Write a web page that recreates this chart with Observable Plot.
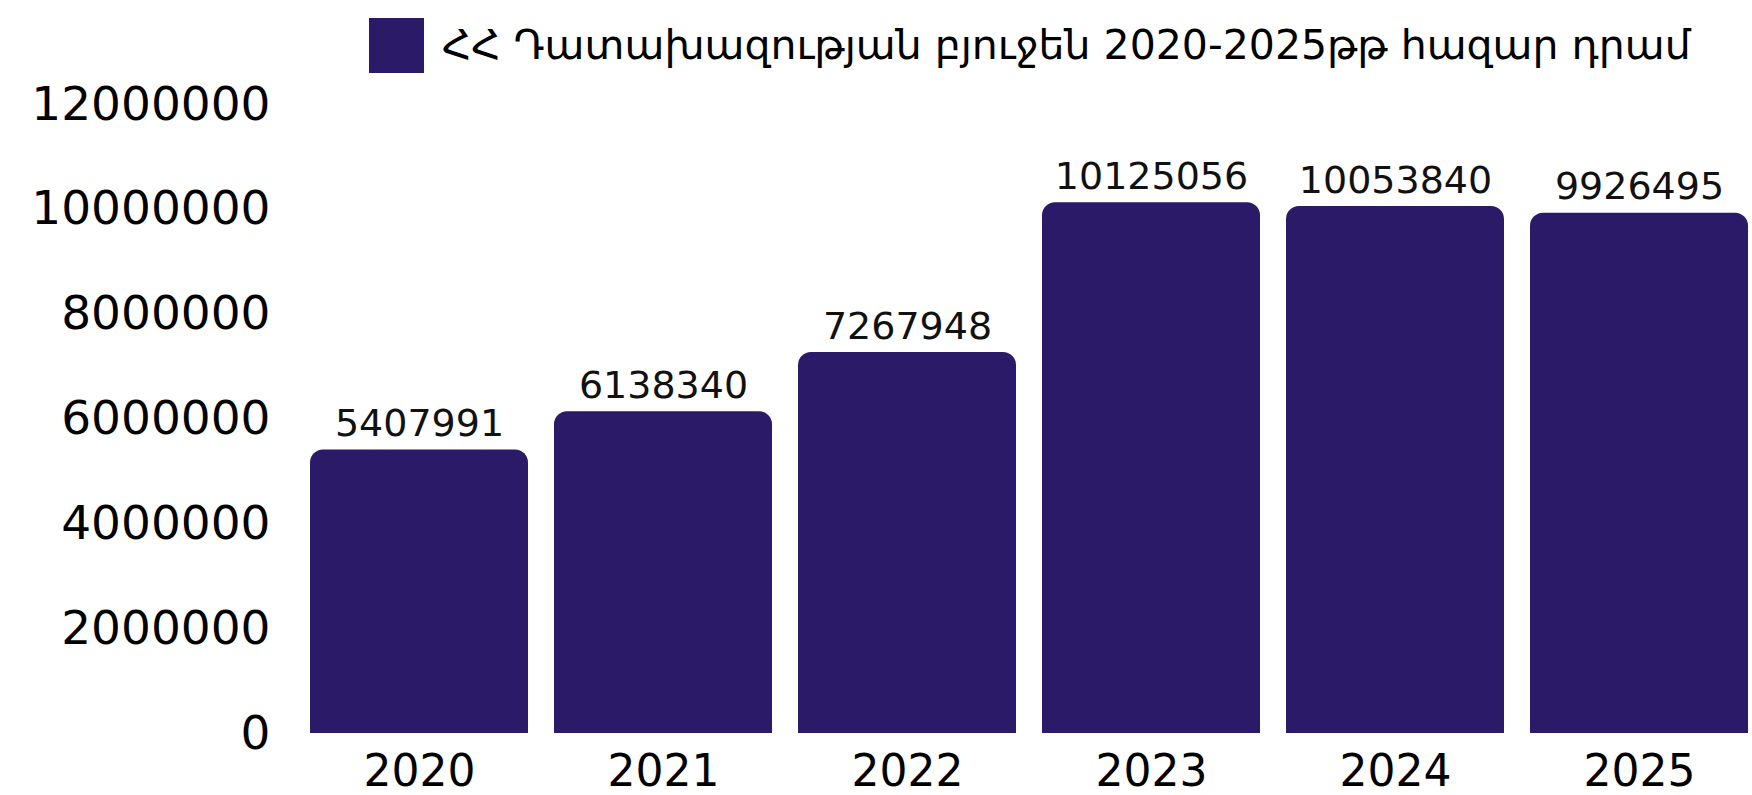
<!DOCTYPE html>
<html>
<head>
<meta charset="utf-8">
<script src="https://cdn.jsdelivr.net/npm/d3@7"></script>
<script src="https://cdn.jsdelivr.net/npm/@observablehq/plot@0.6"></script>
<style>
  html, body { margin: 0; padding: 0; background: #fff; }
  #legend { height: 60px; position: relative; overflow: visible; font-family: "DejaVu Sans", sans-serif; }
  #legend .sw { position: absolute; left: 369px; top: 18px; width: 55px; height: 55px; background: #2b1a67; }
  #legend .tx { position: absolute; left: 442px; top: 17px; font-size: 41px; line-height: 56px; color: #000; white-space: nowrap; }
  #chart svg { overflow: visible; }
</style>
</head>
<body>
<div id="legend"><div class="sw"></div><div class="tx"></div></div>
<div id="chart"></div>
<script>
const years = ["2020", "2021", "2022", "2023", "2024", "2025"];
const values = [5407991, 6138340, 7267948, 10125056, 10053840, 9926495];
const yTicks = [0, 2000000, 4000000, 6000000, 8000000, 10000000, 12000000];
const seriesLabel = "ՀՀ Դատախազության բյուջեն 2020-2025թթ հազար դրամ";
const barColor = "#2b1a67";

document.querySelector("#legend .tx").textContent = seriesLabel;

const data = years.map((y, i) => ({year: y, value: values[i]}));

const chart = Plot.plot({
  width: 1752,
  height: 735,
  marginTop: 44,
  marginBottom: 62,
  marginLeft: 308,
  marginRight: 2,
  style: {fontFamily: "'DejaVu Sans', sans-serif", color: "#000", background: "#fff"},
  x: {domain: years, paddingInner: 0.105, paddingOuter: 0, label: null},
  y: {domain: [0, 12000000], label: null},
  marks: [
    Plot.barY(data, {x: "year", y: "value", fill: barColor, rx: 13}),
    Plot.barY(data, {x: "year", y1: 0, y2: d => d.value / 2, fill: barColor}),
    Plot.text(data, {x: "year", y: "value", text: d => String(d.value), lineAnchor: "bottom", dy: -14, fontSize: 38, fill: "#111"}),
    Plot.axisY({ticks: yTicks, tickSize: 0, tickPadding: 38, tickFormat: d => String(d), fontSize: 47, label: null}),
    Plot.axisX({tickSize: 0, tickPadding: 21, fontSize: 44, label: null})
  ]
});
document.getElementById("chart").appendChild(chart);
</script>
</body>
</html>
